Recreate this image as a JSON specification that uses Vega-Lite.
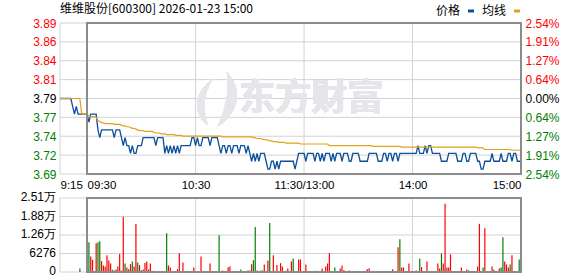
{
"$schema": "https://vega.github.io/schema/vega-lite/v6.json",
"padding": {"left": 20, "top": 3, "right": 5, "bottom": 0},
"background": "white",
"bounds": "flush",
"spacing": 24,
"title": {"text": "维维股份[600300] 2026-01-23 15:00", "anchor": "start", "frame": "group", "font": "Noto Sans CJK SC", "fontSize": 12, "fontWeight": "normal", "color": "#000000", "offset": 6, "dy": 17},
"config": {
  "view": {"stroke": null},
  "axis": {"domain": false, "ticks": false, "grid": false, "labelFont": "Liberation Sans", "labelFontSize": 12, "labelPadding": 4, "labelOverlap": false}
},
"datasets": {
"pricegrid": [{"g":3.69373},{"g":3.7178},{"g":3.74187},{"g":3.76593},{"g":3.79},{"g":3.81407},{"g":3.83813},{"g":3.8622},{"g":3.88627}],
"volgrid": [{"g":0,"t":"0"},{"g":6276,"t":"6276"},{"g":12552,"t":"1.26万"},{"g":18828,"t":"1.88万"},{"g":25104,"t":"2.51万"}],
"timegrid": [{"g":-15},{"g":60},{"g":120},{"g":180}],
"min": [
{"m":-15,"p":3.79,"a":3.79},{"m":-14,"p":3.79,"a":3.79},{"m":-13,"p":3.79,"a":3.79},{"m":-12,"p":3.79,"a":3.79},{"m":-11,"p":3.79,"a":3.79},{"m":-10,"p":3.79,"a":3.79},{"m":-9,"p":3.79,"a":3.79},
{"m":-8,"p":3.78,"a":3.79},{"m":-7,"p":3.77,"a":3.79},{"m":-6,"p":3.78,"a":3.79},{"m":-5,"p":3.77,"a":3.79},{"m":-4,"p":3.77,"a":3.79,"v":1200,"d":"d"},{"m":-3,"p":3.77,"a":3.77},{"m":-2,"p":3.77,"a":3.77},{"m":-1,"p":3.77,"a":3.77},
{"m":0,"p":3.77,"a":3.770},
{"m":1,"p":3.76,"a":3.768,"v":10076,"d":"d"},{"m":2,"p":3.77,"a":3.767,"v":5294,"d":"u"},{"m":3,"p":3.77,"a":3.767,"v":4155,"d":"u"},{"m":4,"p":3.77,"a":3.767,"v":280,"d":"u"},{"m":5,"p":3.77,"a":3.766,"v":9734,"d":"u"},
{"m":6,"p":3.75,"a":3.762,"v":10076,"d":"d"},{"m":7,"p":3.74,"a":3.761,"v":10420,"d":"d"},{"m":8,"p":3.75,"a":3.759,"v":3700,"d":"u"},{"m":9,"p":3.75,"a":3.759,"v":2220,"d":"u"},{"m":10,"p":3.75,"a":3.758,"v":1880,"d":"u"},
{"m":11,"p":3.75,"a":3.758,"v":5640,"d":"u"},{"m":12,"p":3.75,"a":3.758,"v":3930,"d":"u"},{"m":13,"p":3.75,"a":3.758,"v":2900,"d":"u"},{"m":14,"p":3.75,"a":3.758,"v":740,"d":"d"},{"m":15,"p":3.74,"a":3.757,"v":510,"d":"d"},
{"m":16,"p":3.75,"a":3.757,"v":850,"d":"u"},{"m":17,"p":3.75,"a":3.757,"v":1880,"d":"u"},{"m":18,"p":3.75,"a":3.757,"v":6090,"d":"u"},{"m":19,"p":3.74,"a":3.756,"v":510,"d":"d"},{"m":20,"p":3.73,"a":3.755,"v":18730,"d":"u"},
{"m":21,"p":3.74,"a":3.755,"v":2900,"d":"d"},{"m":22,"p":3.73,"a":3.754,"v":1540,"d":"u"},{"m":23,"p":3.73,"a":3.754,"v":970,"d":"u"},{"m":24,"p":3.72,"a":3.753,"v":2680,"d":"u"},{"m":25,"p":3.73,"a":3.752,"v":3590,"d":"d"},
{"m":26,"p":3.72,"a":3.752,"v":1900,"d":"u"},{"m":27,"p":3.72,"a":3.751,"v":16300,"d":"u"},{"m":28,"p":3.73,"a":3.750,"v":3250,"d":"d"},{"m":29,"p":3.73,"a":3.749,"v":2330,"d":"u"},{"m":30,"p":3.73,"a":3.749,"v":630,"d":"d"},
{"m":31,"p":3.74,"a":3.749,"v":850,"d":"u"},{"m":32,"p":3.74,"a":3.748,"v":3020,"d":"u"},{"m":33,"p":3.74,"a":3.748,"v":3590,"d":"u"},{"m":34,"p":3.74,"a":3.748,"v":850,"d":"u"},{"m":35,"p":3.74,"a":3.748,"v":2900,"d":"u"},
{"m":36,"p":3.74,"a":3.748,"v":400,"d":"u"},{"m":37,"p":3.74,"a":3.747,"v":200,"d":"d"},{"m":38,"p":3.73,"a":3.746,"v":200,"d":"d"},{"m":39,"p":3.74,"a":3.746,"v":250,"d":"d"},{"m":40,"p":3.74,"a":3.746,"v":200,"d":"u"},
{"m":41,"p":3.74,"a":3.745,"v":200,"d":"u"},{"m":42,"p":3.74,"a":3.745,"v":200,"d":"u"},{"m":43,"p":3.72,"a":3.745,"v":250,"d":"u"},{"m":44,"p":3.73,"a":3.744,"v":13150,"d":"d"},{"m":45,"p":3.72,"a":3.744,"v":2220,"d":"u"},
{"m":46,"p":3.73,"a":3.744,"v":1540,"d":"u"},{"m":47,"p":3.72,"a":3.744,"v":200,"d":"u"},{"m":48,"p":3.73,"a":3.744,"v":200,"d":"u"},{"m":49,"p":3.72,"a":3.743,"v":250,"d":"u"},{"m":50,"p":3.73,"a":3.743,"v":970,"d":"u"},
{"m":51,"p":3.72,"a":3.743,"v":6320,"d":"u"},{"m":52,"p":3.73,"a":3.743,"v":250,"d":"u"},{"m":53,"p":3.73,"a":3.742,"v":3250,"d":"u"},{"m":54,"p":3.73,"a":3.742,"v":250,"d":"d"},{"m":55,"p":3.73,"a":3.742,"v":300,"d":"u"},
{"m":56,"p":3.73,"a":3.742,"v":250,"d":"d"},{"m":57,"p":3.73,"a":3.742,"v":250,"d":"d"},{"m":58,"p":3.74,"a":3.742,"v":300,"d":"d"},{"m":59,"p":3.74,"a":3.742,"v":1540,"d":"u"},{"m":60,"p":3.73,"a":3.742,"v":250,"d":"u"},
{"m":61,"p":3.74,"a":3.742,"v":300,"d":"d"},{"m":62,"p":3.73,"a":3.742,"v":250,"d":"u"},{"m":63,"p":3.73,"a":3.742,"v":5294,"d":"u"},{"m":64,"p":3.74,"a":3.742,"v":300,"d":"u"},{"m":65,"p":3.74,"a":3.742,"v":250,"d":"u"},
{"m":66,"p":3.74,"a":3.742,"v":300,"d":"u"},{"m":67,"p":3.74,"a":3.742,"v":250,"d":"u"},{"m":68,"p":3.73,"a":3.742,"v":2900,"d":"u"},{"m":69,"p":3.74,"a":3.742,"v":300,"d":"u"},{"m":70,"p":3.74,"a":3.742,"v":250,"d":"u"},
{"m":71,"p":3.74,"a":3.742,"v":300,"d":"u"},{"m":72,"p":3.74,"a":3.742,"v":250,"d":"u"},{"m":73,"p":3.73,"a":3.742,"v":12470,"d":"d"},{"m":74,"p":3.72,"a":3.742,"v":250,"d":"u"},{"m":75,"p":3.73,"a":3.741,"v":500,"d":"u"},
{"m":76,"p":3.73,"a":3.741,"v":300,"d":"u"},{"m":77,"p":3.72,"a":3.741,"v":250,"d":"u"},{"m":78,"p":3.73,"a":3.741,"v":1650,"d":"u"},{"m":79,"p":3.73,"a":3.741,"v":1880,"d":"u"},{"m":80,"p":3.72,"a":3.741,"v":300,"d":"u"},
{"m":81,"p":3.73,"a":3.741,"v":250,"d":"u"},{"m":82,"p":3.73,"a":3.741,"v":300,"d":"u"},{"m":83,"p":3.73,"a":3.741,"v":250,"d":"u"},{"m":84,"p":3.72,"a":3.741,"v":300,"d":"u"},{"m":85,"p":3.73,"a":3.741,"v":850,"d":"d"},
{"m":86,"p":3.73,"a":3.741,"v":300,"d":"u"},{"m":87,"p":3.73,"a":3.741,"v":250,"d":"u"},{"m":88,"p":3.72,"a":3.741,"v":300,"d":"u"},{"m":89,"p":3.73,"a":3.741,"v":500,"d":"d"},{"m":90,"p":3.72,"a":3.741,"v":500,"d":"d"},
{"m":91,"p":3.71,"a":3.741,"v":2600,"d":"u"},{"m":92,"p":3.72,"a":3.740,"v":4000,"d":"d"},{"m":93,"p":3.71,"a":3.740,"v":15300,"d":"d"},{"m":94,"p":3.72,"a":3.739,"v":500,"d":"u"},{"m":95,"p":3.71,"a":3.739,"v":300,"d":"u"},
{"m":96,"p":3.72,"a":3.739,"v":500,"d":"d"},{"m":97,"p":3.72,"a":3.738,"v":500,"d":"d"},{"m":98,"p":3.72,"a":3.738,"v":2560,"d":"u"},{"m":99,"p":3.71,"a":3.737,"v":300,"d":"u"},{"m":100,"p":3.70,"a":3.737,"v":3930,"d":"u"},
{"m":101,"p":3.70,"a":3.736,"v":16600,"d":"d"},{"m":102,"p":3.71,"a":3.736,"v":300,"d":"u"},{"m":103,"p":3.71,"a":3.735,"v":5700,"d":"u"},{"m":104,"p":3.70,"a":3.735,"v":200,"d":"d"},{"m":105,"p":3.71,"a":3.735,"v":2400,"d":"u"},
{"m":106,"p":3.70,"a":3.734,"v":300,"d":"u"},{"m":107,"p":3.71,"a":3.734,"v":3000,"d":"u"},{"m":108,"p":3.71,"a":3.734,"v":1880,"d":"u"},{"m":109,"p":3.71,"a":3.734,"v":300,"d":"u"},{"m":110,"p":3.71,"a":3.733,"v":400,"d":"u"},
{"m":111,"p":3.71,"a":3.733,"v":1200,"d":"u"},{"m":112,"p":3.71,"a":3.733,"v":300,"d":"u"},{"m":113,"p":3.71,"a":3.733,"v":3590,"d":"u"},{"m":114,"p":3.71,"a":3.733,"v":4610,"d":"d"},{"m":115,"p":3.70,"a":3.733,"v":300,"d":"u"},
{"m":116,"p":3.71,"a":3.733,"v":300,"d":"u"},{"m":117,"p":3.72,"a":3.733,"v":4270,"d":"u"},{"m":118,"p":3.72,"a":3.732,"v":4270,"d":"u"},{"m":119,"p":3.72,"a":3.732,"v":300,"d":"u"},{"m":120,"p":3.72,"a":3.732,"v":300,"d":"u"},
{"m":121,"p":3.71,"a":3.732,"v":2560,"d":"u"},{"m":122,"p":3.72,"a":3.732,"v":300,"d":"u"},{"m":123,"p":3.72,"a":3.732,"v":300,"d":"u"},{"m":124,"p":3.72,"a":3.732,"v":250,"d":"u"},{"m":125,"p":3.72,"a":3.732,"v":300,"d":"u"},
{"m":126,"p":3.71,"a":3.732,"v":250,"d":"u"},{"m":127,"p":3.72,"a":3.732,"v":400,"d":"u"},{"m":128,"p":3.72,"a":3.732,"v":250,"d":"u"},{"m":129,"p":3.71,"a":3.732,"v":300,"d":"u"},{"m":130,"p":3.72,"a":3.732,"v":1200,"d":"u"},
{"m":131,"p":3.71,"a":3.732,"v":300,"d":"u"},{"m":132,"p":3.72,"a":3.732,"v":1880,"d":"u"},{"m":133,"p":3.72,"a":3.732,"v":2900,"d":"u"},{"m":134,"p":3.72,"a":3.730,"v":6430,"d":"u"},{"m":135,"p":3.71,"a":3.730,"v":300,"d":"u"},
{"m":136,"p":3.72,"a":3.730,"v":300,"d":"u"},{"m":137,"p":3.71,"a":3.730,"v":1540,"d":"d"},{"m":138,"p":3.72,"a":3.730,"v":250,"d":"u"},{"m":139,"p":3.72,"a":3.730,"v":300,"d":"u"},{"m":140,"p":3.72,"a":3.730,"v":1200,"d":"u"},
{"m":141,"p":3.71,"a":3.730,"v":2220,"d":"u"},{"m":142,"p":3.72,"a":3.730,"v":600,"d":"u"},{"m":143,"p":3.72,"a":3.730,"v":400,"d":"u"},{"m":144,"p":3.72,"a":3.730,"v":300,"d":"u"},{"m":145,"p":3.71,"a":3.730,"v":500,"d":"u"},
{"m":146,"p":3.71,"a":3.730,"v":300,"d":"u"},{"m":147,"p":3.72,"a":3.730,"v":300,"d":"u"},{"m":148,"p":3.72,"a":3.730,"v":300,"d":"u"},{"m":149,"p":3.72,"a":3.730,"v":300,"d":"u"},{"m":150,"p":3.72,"a":3.730,"v":300,"d":"u"},
{"m":151,"p":3.71,"a":3.730,"v":300,"d":"u"},{"m":152,"p":3.71,"a":3.730,"v":300,"d":"u"},{"m":153,"p":3.71,"a":3.730,"v":300,"d":"u"},{"m":154,"p":3.71,"a":3.730,"v":400,"d":"u"},{"m":155,"p":3.71,"a":3.730,"v":970,"d":"u"},
{"m":156,"p":3.72,"a":3.730,"v":1300,"d":"u"},{"m":157,"p":3.72,"a":3.730,"v":300,"d":"u"},{"m":158,"p":3.72,"a":3.729,"v":300,"d":"u"},{"m":159,"p":3.72,"a":3.729,"v":300,"d":"u"},{"m":160,"p":3.72,"a":3.729,"v":300,"d":"u"},
{"m":161,"p":3.71,"a":3.729,"v":300,"d":"u"},{"m":162,"p":3.71,"a":3.729,"v":300,"d":"u"},{"m":163,"p":3.71,"a":3.729,"v":300,"d":"u"},{"m":164,"p":3.72,"a":3.729,"v":300,"d":"u"},{"m":165,"p":3.72,"a":3.729,"v":300,"d":"u"},
{"m":166,"p":3.71,"a":3.729,"v":300,"d":"u"},{"m":167,"p":3.72,"a":3.729,"v":300,"d":"u"},{"m":168,"p":3.72,"a":3.729,"v":300,"d":"u"},{"m":169,"p":3.71,"a":3.729,"v":970,"d":"u"},{"m":170,"p":3.72,"a":3.729,"v":300,"d":"u"},
{"m":171,"p":3.72,"a":3.729,"v":300,"d":"u"},{"m":172,"p":3.71,"a":3.729,"v":8370,"d":"u"},{"m":173,"p":3.72,"a":3.729,"v":11100,"d":"d"},{"m":174,"p":3.72,"a":3.728,"v":1540,"d":"u"},{"m":175,"p":3.72,"a":3.728,"v":1540,"d":"u"},
{"m":176,"p":3.72,"a":3.728,"v":300,"d":"u"},{"m":177,"p":3.72,"a":3.728,"v":300,"d":"u"},{"m":178,"p":3.72,"a":3.728,"v":2900,"d":"u"},{"m":179,"p":3.72,"a":3.728,"v":300,"d":"u"},{"m":180,"p":3.72,"a":3.728,"v":300,"d":"u"},
{"m":181,"p":3.72,"a":3.728,"v":300,"d":"u"},{"m":182,"p":3.72,"a":3.728,"v":500,"d":"u"},{"m":183,"p":3.73,"a":3.728,"v":300,"d":"u"},{"m":184,"p":3.72,"a":3.728,"v":4610,"d":"d"},{"m":185,"p":3.72,"a":3.728,"v":1650,"d":"u"},
{"m":186,"p":3.72,"a":3.728,"v":300,"d":"u"},{"m":187,"p":3.73,"a":3.728,"v":300,"d":"u"},{"m":188,"p":3.72,"a":3.728,"v":3590,"d":"u"},{"m":189,"p":3.73,"a":3.728,"v":300,"d":"u"},{"m":190,"p":3.73,"a":3.728,"v":300,"d":"u"},
{"m":191,"p":3.72,"a":3.728,"v":300,"d":"u"},{"m":192,"p":3.72,"a":3.728,"v":300,"d":"u"},{"m":193,"p":3.72,"a":3.728,"v":300,"d":"u"},{"m":194,"p":3.72,"a":3.728,"v":2900,"d":"u"},{"m":195,"p":3.72,"a":3.728,"v":1200,"d":"u"},
{"m":196,"p":3.71,"a":3.728,"v":6320,"d":"d"},{"m":197,"p":3.71,"a":3.728,"v":2900,"d":"u"},{"m":198,"p":3.71,"a":3.728,"v":23170,"d":"u"},{"m":199,"p":3.71,"a":3.728,"v":1540,"d":"u"},{"m":200,"p":3.72,"a":3.728,"v":1540,"d":"u"},
{"m":201,"p":3.72,"a":3.728,"v":5980,"d":"u"},{"m":202,"p":3.72,"a":3.728,"v":300,"d":"u"},{"m":203,"p":3.72,"a":3.728,"v":300,"d":"u"},{"m":204,"p":3.72,"a":3.728,"v":300,"d":"u"},{"m":205,"p":3.71,"a":3.728,"v":300,"d":"u"},
{"m":206,"p":3.71,"a":3.728,"v":300,"d":"u"},{"m":207,"p":3.71,"a":3.728,"v":1540,"d":"u"},{"m":208,"p":3.72,"a":3.728,"v":300,"d":"u"},{"m":209,"p":3.72,"a":3.728,"v":300,"d":"u"},{"m":210,"p":3.71,"a":3.728,"v":850,"d":"u"},
{"m":211,"p":3.71,"a":3.728,"v":500,"d":"d"},{"m":212,"p":3.72,"a":3.728,"v":200,"d":"u"},{"m":213,"p":3.72,"a":3.728,"v":200,"d":"u"},{"m":214,"p":3.72,"a":3.728,"v":300,"d":"u"},{"m":215,"p":3.72,"a":3.728,"v":300,"d":"u"},
{"m":216,"p":3.71,"a":3.727,"v":1880,"d":"u"},{"m":217,"p":3.71,"a":3.727,"v":16340,"d":"u"},{"m":218,"p":3.70,"a":3.727,"v":300,"d":"u"},{"m":219,"p":3.70,"a":3.727,"v":1540,"d":"d"},{"m":220,"p":3.71,"a":3.725,"v":14860,"d":"u"},
{"m":221,"p":3.71,"a":3.725,"v":300,"d":"u"},{"m":222,"p":3.71,"a":3.725,"v":300,"d":"u"},{"m":223,"p":3.71,"a":3.725,"v":300,"d":"u"},{"m":224,"p":3.72,"a":3.725,"v":1880,"d":"u"},{"m":225,"p":3.71,"a":3.725,"v":740,"d":"d"},
{"m":226,"p":3.71,"a":3.725,"v":300,"d":"u"},{"m":227,"p":3.71,"a":3.725,"v":300,"d":"u"},{"m":228,"p":3.71,"a":3.725,"v":1200,"d":"u"},{"m":229,"p":3.72,"a":3.725,"v":1540,"d":"d"},{"m":230,"p":3.71,"a":3.725,"v":11780,"d":"d"},
{"m":231,"p":3.71,"a":3.725,"v":3590,"d":"u"},{"m":232,"p":3.71,"a":3.725,"v":2560,"d":"u"},{"m":233,"p":3.72,"a":3.725,"v":1540,"d":"u"},{"m":234,"p":3.72,"a":3.725,"v":2560,"d":"d"},{"m":235,"p":3.71,"a":3.724,"v":5640,"d":"u"},
{"m":236,"p":3.72,"a":3.724,"v":300,"d":"u"},{"m":237,"p":3.72,"a":3.724,"v":300,"d":"u"},{"m":238,"p":3.71,"a":3.724,"v":300,"d":"u"},{"m":239,"p":3.71,"a":3.724,"v":4270,"d":"d"},{"m":240,"p":3.71,"a":3.724,"v":300,"d":"u"}
]
},
"vconcat": [
{
  "width": 461,
  "height": 151,
  "data": {"name": "min"},
  "resolve": {"axis": {"y": "independent"}},
  "layer": [
    {
      "data": {"name": "pricegrid"},
      "mark": {"type": "rule", "stroke": "#d2d2d2", "strokeWidth": 1},
      "encoding": {
        "y": {"field": "g", "type": "quantitative", "axis": null},
        "x": {"datum": -15, "type": "quantitative"},
        "x2": {"datum": 240}
      }
    },
    {
      "data": {"name": "timegrid"},
      "mark": {"type": "rule", "stroke": "#d2d2d2", "strokeWidth": 1},
      "encoding": {
        "x": {"field": "g", "type": "quantitative"},
        "y": {"datum": 3.69373, "type": "quantitative", "axis": null},
        "y2": {"datum": 3.88627}
      }
    },
    {
      "mark": {"type": "text", "text": "东方财富", "font": "Noto Sans CJK SC", "fontSize": 36, "fontWeight": "bold", "color": "#e6e6ea", "baseline": "middle", "align": "center"},
      "encoding": {
        "x": {"datum": 124, "type": "quantitative"},
        "y": {"datum": 3.789, "type": "quantitative", "axis": null}
      }
    },
    {
      "mark": {"type": "point", "shape": "M-0.15,-0.75 C-0.95,-0.2 -0.85,0.55 -0.35,0.95 C-0.55,0.3 -0.5,-0.25 -0.15,-0.75 Z M0.35,-1 C0.95,-0.35 0.8,0.5 0.0,1 C0.3,0.4 0.45,-0.3 0.35,-1 Z", "size": 3000, "filled": true, "color": "#e6e6ea", "opacity": 1, "strokeWidth": 0},
      "encoding": {
        "x": {"datum": 72, "type": "quantitative"},
        "y": {"datum": 3.789, "type": "quantitative", "axis": null}
      }
    },
    {
      "mark": {"type": "line", "strokeWidth": 1.3, "interpolate": "linear"},
      "encoding": {
        "x": {"field": "m", "type": "quantitative",
          "scale": {"domain": [-15, 240], "nice": false, "zero": false},
          "axis": {"title": null, "grid": false, "values": [-15, 0, 60, 120, 180, 240],
            "labelExpr": "datum.value == -15 ? '9:15' : datum.value == 0 ? '09:30' : datum.value == 60 ? '10:30' : datum.value == 120 ? '11:30/13:00' : datum.value == 180 ? '14:00' : '15:00'",
            "labelAlign": {"condition": [{"test": "datum.value <= 0", "value": "left"}, {"test": "datum.value >= 240", "value": "right"}], "value": "center"},
            "labelFontSize": 11.5, "labelColor": "#000000", "labelPadding": 5, "labelOverlap": false}},
        "y": {"field": "p", "type": "quantitative",
          "scale": {"domain": [3.69373, 3.88627], "nice": false, "zero": false},
          "axis": {"orient": "left", "title": null, "grid": false, "labelOverlap": false,
            "values": [3.69373, 3.7178, 3.74187, 3.76593, 3.79, 3.81407, 3.83813, 3.8622, 3.88627],
            "format": ".2f",
            "labelColor": {"condition": [{"test": "datum.value > 3.7905", "value": "#ff0000"}, {"test": "datum.value < 3.7895", "value": "#008000"}], "value": "#000000"}
          }},
        "color": {"datum": "价格", "type": "nominal",
          "scale": {"domain": ["价格", "均线"], "range": ["#0d4f9e", "#e0a21c"]},
          "legend": {"orient": "none", "legendX": 405, "legendY": -18, "direction": "horizontal", "title": null,
            "symbolType": "M-1,0H1", "symbolSize": 36, "symbolStrokeWidth": 3,
            "labelFont": "Noto Sans CJK SC", "labelFontSize": 12, "labelColor": "#000000",
            "labelAlign": "right", "labelOffset": -17, "columnPadding": 1}}
      }
    },
    {
      "mark": {"type": "line", "strokeWidth": 1.2, "interpolate": "linear"},
      "encoding": {
        "x": {"field": "m", "type": "quantitative"},
        "y": {"field": "a", "type": "quantitative",
          "axis": {"orient": "right", "title": null, "grid": false, "labelOverlap": false,
            "values": [3.69373, 3.7178, 3.74187, 3.76593, 3.79, 3.81407, 3.83813, 3.8622, 3.88627],
            "labelExpr": "['2.54%','1.91%','1.27%','0.64%','0.00%','0.64%','1.27%','1.91%','2.54%'][round((datum.value - 3.79) / 0.0240665) + 4]",
            "labelColor": {"condition": [{"test": "datum.value > 3.7905", "value": "#ff0000"}, {"test": "datum.value < 3.7895", "value": "#008000"}], "value": "#000000"}
          }},
        "color": {"datum": "均线", "type": "nominal"}
      }
    },
    {
      "mark": {"type": "rect", "fill": "transparent", "stroke": "#8c8c8c", "strokeWidth": 1.3},
      "encoding": {
        "x": {"datum": 0, "type": "quantitative"},
        "x2": {"datum": 240},
        "y": {"datum": 3.69373, "type": "quantitative", "axis": null},
        "y2": {"datum": 3.88627}
      }
    }
  ]
},
{
  "width": 461,
  "height": 74,
  "data": {"name": "min"},
  "layer": [
    {
      "data": {"name": "volgrid"},
      "mark": {"type": "rule", "stroke": "#d2d2d2", "strokeWidth": 1},
      "encoding": {
        "y": {"field": "g", "type": "quantitative", "axis": null, "scale": {"domain": [0, 25104], "nice": false}},
        "x": {"datum": -15, "type": "quantitative", "axis": null, "scale": {"domain": [-15, 240], "nice": false, "zero": false}},
        "x2": {"datum": 240}
      }
    },
    {
      "data": {"name": "timegrid"},
      "mark": {"type": "rule", "stroke": "#d2d2d2", "strokeWidth": 1},
      "encoding": {
        "x": {"field": "g", "type": "quantitative", "axis": null},
        "y": {"datum": 0, "type": "quantitative", "axis": null},
        "y2": {"datum": 25104}
      }
    },
    {
      "data": {"name": "volgrid"},
      "mark": {"type": "text", "align": "right", "baseline": "middle", "dx": -4, "dy": -1, "font": "Liberation Sans", "fontSize": 12, "color": "#000000"},
      "encoding": {
        "y": {"field": "g", "type": "quantitative", "axis": null},
        "x": {"datum": -15, "type": "quantitative", "axis": null},
        "text": {"field": "t", "type": "nominal"}
      }
    },
    {
      "transform": [{"filter": "datum.v > 0"}],
      "mark": {"type": "rule", "strokeWidth": 1.2},
      "encoding": {
        "x": {"field": "m", "type": "quantitative", "axis": null},
        "y": {"field": "v", "type": "quantitative", "axis": null},
        "y2": {"datum": 0},
        "color": {"condition": {"test": "datum.d == 'd'", "value": "#008000"}, "value": "#ff0000"}
      }
    },
    {
      "mark": {"type": "rect", "fill": "transparent", "stroke": "#8c8c8c", "strokeWidth": 1.3},
      "encoding": {
        "x": {"datum": 0, "type": "quantitative", "axis": null},
        "x2": {"datum": 240},
        "y": {"datum": 0, "type": "quantitative", "axis": null},
        "y2": {"datum": 25104}
      }
    }
  ]
}
]
}
